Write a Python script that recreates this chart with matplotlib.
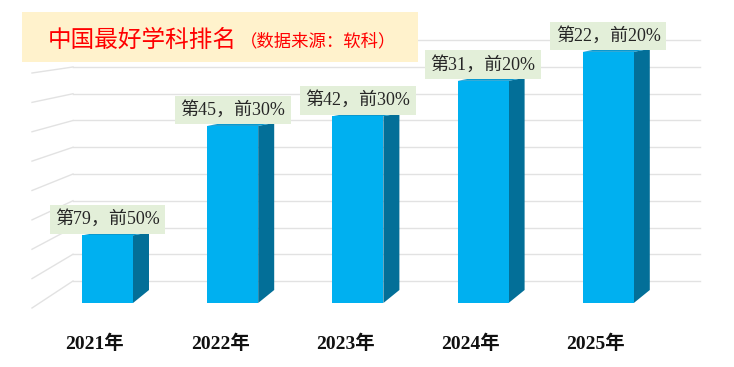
import matplotlib
matplotlib.use('Agg')
import matplotlib.pyplot as plt
from matplotlib.patches import Polygon, Rectangle

# data
years = ['2021年', '2022年', '2023年', '2024年', '2025年']
ranks = [79, 45, 42, 31, 22]
tiers = ['前50%', '前30%', '前30%', '前20%', '前20%']
values = [100 - r for r in ranks]   # bar height = 100 - rank
grid_values = list(range(0, 100, 10))

# pixel -> data scale of the front plane
PX_X = 125.2    # px per category
PX_Y = 3.22     # px per value unit

fig = plt.figure(figsize=(7.34, 3.67), dpi=100)
ax = fig.add_axes([0, 0, 1, 1])
ax.set_xlim(-107.5 / PX_X, (734 - 107.5) / PX_X)
ax.set_ylim(-(367 - 303) / PX_Y, 303 / PX_Y)
ax.axis('off')

front_col = '#00B0F0'
side_col = '#036F98'
top_col = '#0A98CF'
grid_col = '#E2E2E2'

# back wall + left wall grid (perspective-ish)
wall_x0 = -34.5 / PX_X
wall_x1 = 592.5 / PX_X
left_x = -75.5 / PX_X
for g in grid_values:
    wy = (22 + 2.675 * g) / PX_Y
    drop = (27 - 0.2625 * g) / PX_Y
    ax.plot([wall_x0, wall_x1], [wy, wy], color=grid_col, lw=1.0, zorder=1)
    ax.plot([left_x, wall_x0], [wy - drop, wy], color=grid_col, lw=1.0, zorder=1)

# 3D-looking bars
half_w = 25.5 / PX_X
dx = 16 / PX_X
dy_bot = 13 / PX_Y
dy_top = 3 / PX_Y
for i, v in enumerate(values):
    xl, xr = i - half_w, i + half_w
    side = Polygon([(xr, 0), (xr + dx, dy_bot), (xr + dx, v + dy_top), (xr, v)],
                   closed=True, facecolor=side_col, edgecolor='none', zorder=3)
    top = Polygon([(xl, v), (xr, v), (xr + dx, v + dy_top), (xl + dx, v + dy_top)],
                  closed=True, facecolor=top_col, edgecolor='none', zorder=3)
    front = Rectangle((xl, 0), xr - xl, v, facecolor=front_col, edgecolor='none', zorder=4)
    ax.add_patch(side)
    ax.add_patch(top)
    ax.add_patch(front)

    ax.text(i, v + 16 / PX_Y, f'第{ranks[i]}，{tiers[i]}', ha='center', va='center',
            fontsize=13, color='#262626', zorder=6,
            family=['Liberation Serif', 'Noto Sans CJK SC'],
            bbox=dict(boxstyle='square,pad=0.3', facecolor='#E3EFD9', edgecolor='none'))

    ax.text(i - 12.5 / PX_X, -41 / PX_Y, years[i], ha='center', va='center',
            fontsize=14, fontweight='bold', color='#111111', zorder=6,
            family=['Liberation Serif', 'Noto Sans CJK SC'])

# title box
ax.add_patch(Rectangle((-85.5 / PX_X, (303 - 62) / PX_Y), 396 / PX_X, 50 / PX_Y,
                       facecolor='#FFF2CC', edgecolor='none', zorder=8))
fig.text(48 / 734, 1 - 40 / 367, '中国最好学科排名', ha='left', va='center',
         fontsize=17, color='#FF0000', family=['Noto Sans CJK SC', 'DejaVu Sans'], zorder=9)
fig.text(240 / 734, 1 - 41 / 367, '（数据来源：软科）', ha='left', va='center',
         fontsize=12.5, color='#FF0000', family=['Noto Sans CJK SC', 'DejaVu Sans'], zorder=9)

fig.savefig('out.png', dpi=100)
